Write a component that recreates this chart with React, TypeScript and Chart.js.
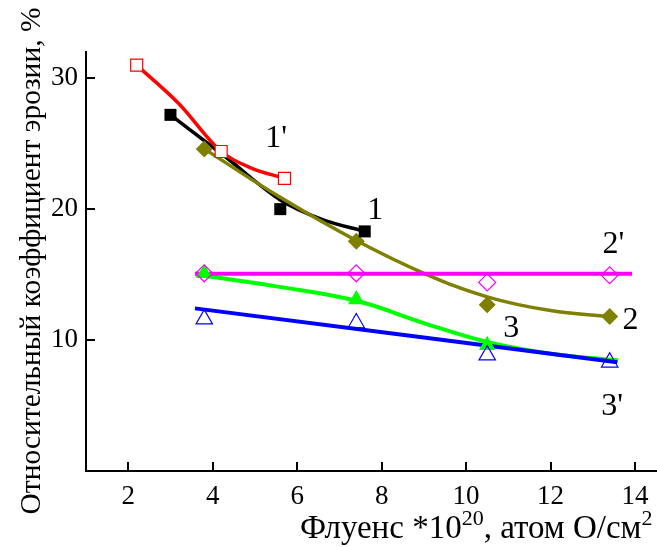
import React, { useEffect, useRef } from "react";
import { Chart, registerables } from "chart.js";

Chart.register(...registerables);

// ---- data ----
const X_TICKS = [2, 4, 6, 8, 10, 12, 14];
const Y_TICKS = [10, 20, 30];

// 1' (red open squares)
const X_1P = [2.2, 4.2, 5.7];
const Y_1P = [31.0, 24.4, 22.35];
const FIT_X_1P = [2.2, 3.2, 4.2, 4.9, 5.7];
const FIT_Y_1P = [31.0, 28.05, 24.4, 23.15, 22.35];
// 1 (black filled squares)
const X_1 = [3.0, 5.6, 7.6];
const Y_1 = [27.2, 20.0, 18.3];
const FIT_X_1 = [3.0, 4.3, 5.6, 6.6, 7.6];
const FIT_Y_1 = [27.2, 24.0, 20.7, 19.2, 18.3];
// 2 (olive filled diamonds)
const X_2 = [3.8, 7.4, 10.5, 13.4];
const Y_2 = [24.6, 17.55, 12.7, 11.8];
const FIT_X_2 = [3.8, 5.6, 7.4, 9.0, 10.5, 12.0, 13.4];
const FIT_Y_2 = [24.6, 20.9, 17.6, 15.1, 13.3, 12.25, 11.8];
// 2' (magenta open diamonds)
const X_2P = [3.8, 7.4, 10.5, 13.4];
const Y_2P = [15.1, 15.1, 14.4, 14.95];
const FIT_X_2P = [3.58, 13.93];
const FIT_Y_2P = [15.07, 15.07];
// 3 (green filled triangles)
const X_3 = [3.8, 7.4, 10.5];
const Y_3 = [15.1, 13.1, 9.6];
const FIT_X_3 = [3.6, 5.5, 7.4, 9.0, 10.5, 12.0, 13.6];
const FIT_Y_3 = [15.0, 14.1, 13.0, 11.3, 9.85, 8.95, 8.45];
// 3' (blue open triangles)
const X_3P = [3.8, 7.4, 10.5, 13.4];
const Y_3P = [11.6, 11.3, 8.85, 8.3];
const FIT_X_3P = [3.58, 13.58];
const FIT_Y_3P = [12.42, 8.3];

// curve labels
const LABEL_TEXT = ["1'", "1", "2'", "2", "3", "3'"];
const LABEL_X = [5.5, 7.85, 13.49, 13.89, 11.07, 13.46];
const LABEL_Y = [25.4, 19.9, 17.3, 11.5, 10.84, 4.89];

const FONT = "'Liberation Serif', 'Times New Roman', serif";

const pts = (xs: number[], ys: number[]) => xs.map((x, i) => ({ x, y: ys[i] }));

const overlay = {
  id: "overlay",
  afterDraw(chart: any) {
    const { ctx, chartArea } = chart;
    const xs = chart.scales.x;
    const ys = chart.scales.y;
    ctx.save();
    ctx.strokeStyle = "#000";
    ctx.lineWidth = 2;
    ctx.beginPath();
    for (const v of X_TICKS) {
      const px = Math.round(xs.getPixelForValue(v));
      ctx.moveTo(px, chartArea.bottom);
      ctx.lineTo(px, chartArea.bottom - 9);
    }
    for (const v of Y_TICKS) {
      const py = Math.round(ys.getPixelForValue(v));
      ctx.moveTo(chartArea.left, py);
      ctx.lineTo(chartArea.left + 9, py);
    }
    ctx.stroke();

    ctx.fillStyle = "#000";
    // curve labels
    ctx.font = `32px ${FONT}`;
    ctx.textAlign = "center";
    ctx.textBaseline = "middle";
    LABEL_TEXT.forEach((t, i) => {
      ctx.fillText(t, xs.getPixelForValue(LABEL_X[i]), ys.getPixelForValue(LABEL_Y[i]));
    });

    // x title with superscripts
    const parts: [string, boolean][] = [
      ["Флуенс *10", false],
      ["20", true],
      [", атом О/см", false],
      ["2", true],
    ];
    ctx.textAlign = "left";
    ctx.textBaseline = "alphabetic";
    let cx = 300;
    const base = 538;
    for (const [t, sup] of parts) {
      ctx.font = sup ? `22px ${FONT}` : `33px ${FONT}`;
      ctx.fillText(t, cx, sup ? base - 13 : base);
      cx += ctx.measureText(t).width;
    }

    // y title
    ctx.translate(40, 261);
    ctx.rotate(-Math.PI / 2);
    ctx.font = `29.5px ${FONT}`;
    ctx.textAlign = "center";
    ctx.fillText("Относительный коэффициент эрозии, %", 0, 0);
    ctx.restore();
  },
};

export default function App() {
  const ref = useRef<HTMLCanvasElement | null>(null);
  useEffect(() => {
    if (!ref.current) return;
    Chart.defaults.font.family = FONT;
    const fit = (data: any, color: string, width = 3.5, mono = false) => ({
      data,
      showLine: true,
      borderColor: color,
      borderWidth: width,
      pointRadius: 0,
      tension: 0.4,
      cubicInterpolationMode: mono ? "monotone" : "default",
      fill: false,
    });
    const mk = (data: any, style: string, color: string, filled: boolean, r: number, bg?: string) => ({
      data,
      showLine: false,
      pointStyle: style,
      pointRadius: r,
      pointBorderWidth: filled ? 0 : 1.2,
      pointBorderColor: color,
      pointBackgroundColor: filled ? color : bg ?? "rgba(255,255,255,0)",
      borderColor: color,
      backgroundColor: filled ? color : bg ?? "rgba(255,255,255,0)",
    });
    const chart = new Chart(ref.current, {
      type: "scatter",
      data: {
        datasets: [
          mk(pts(X_1P, Y_1P), "rect", "#ff0000", false, 8.5, "#ffffff"),
          mk(pts(X_1, Y_1), "rect", "#000000", true, 8.5),
          mk(pts(X_2, Y_2), "rectRot", "#808000", true, 8.5),
          mk(pts(X_2P, Y_2P), "rectRot", "#ff00ff", false, 8.5),
          mk(pts(X_3P, Y_3P), "triangle", "#0000ff", false, 9.5),
          mk(pts(X_3, Y_3), "triangle", "#00ff00", true, 9.5),
          fit(pts(FIT_X_1P, FIT_Y_1P), "#ff0000", 3.5, true),
          fit(pts(FIT_X_2P, FIT_Y_2P), "#ff00ff", 4),
          fit(pts(FIT_X_3P, FIT_Y_3P), "#0000ff", 4),
          fit(pts(FIT_X_2, FIT_Y_2), "#808000"),
          fit(pts(FIT_X_1, FIT_Y_1), "#000000", 3.5, true),
          fit(pts(FIT_X_3, FIT_Y_3), "#00ff00", 4),
        ] as any,
      },
      options: {
        animation: false,
        responsive: false,
        events: [],
        layout: { autoPadding: false, padding: { left: 0, top: 52, right: 0, bottom: 0 } },
        plugins: { legend: { display: false }, tooltip: { enabled: false } },
        scales: {
          x: {
            type: "linear",
            min: 1,
            max: 14.52,
            grid: { display: false, drawTicks: false },
            border: { display: true, color: "#000", width: 2 },
            ticks: { color: "#000", font: { size: 27, family: FONT }, padding: 10, maxRotation: 0 },
            afterBuildTicks: (s: any) => { s.ticks = X_TICKS.map((v) => ({ value: v })); },
            afterFit: (s: any) => { s.height = 76; s.paddingLeft = 0; s.paddingRight = 0; },
          },
          y: {
            type: "linear",
            min: 0,
            max: 32,
            grid: { display: false, drawTicks: false },
            border: { display: true, color: "#000", width: 2 },
            ticks: { color: "#000", font: { size: 27, family: FONT }, padding: 8 },
            afterBuildTicks: (s: any) => { s.ticks = Y_TICKS.map((v) => ({ value: v })); },
            afterFit: (s: any) => { s.width = 86; s.paddingTop = 0; s.paddingBottom = 0; },
          },
        },
      } as any,
      plugins: [overlay],
    });
    return () => chart.destroy();
  }, []);
  return (
    <div style={{ position: "fixed", left: 0, top: 0, width: 657, height: 547, background: "#fff" }}>
      <canvas ref={ref} width={657} height={547} style={{ display: "block" }} />
    </div>
  );
}
